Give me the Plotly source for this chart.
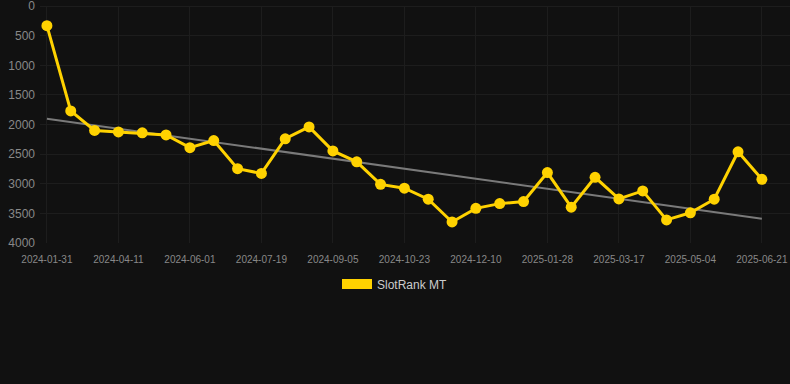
import plotly.graph_objects as go

dates = [
    "2024-01-31", "2024-02-24", "2024-03-18", "2024-04-11", "2024-04-28", "2024-05-15",
    "2024-06-01", "2024-06-17", "2024-07-03", "2024-07-19", "2024-08-04", "2024-08-20",
    "2024-09-05", "2024-09-21", "2024-10-07", "2024-10-23", "2024-11-08", "2024-11-24",
    "2024-12-10", "2024-12-26", "2025-01-11", "2025-01-28", "2025-02-13", "2025-03-01",
    "2025-03-17", "2025-04-02", "2025-04-18", "2025-05-04", "2025-05-20", "2025-06-05",
    "2025-06-21",
]
ranks = [
    330, 1770, 2100, 2125, 2140, 2175, 2390, 2270, 2745, 2825, 2240, 2040,
    2445, 2630, 3010, 3075, 3260, 3645, 3415, 3335, 3300, 2810, 3395, 2890,
    3255, 3120, 3610, 3490, 3260, 2460, 2925,
]
tick_labels = [
    "2024-01-31", "2024-04-11", "2024-06-01", "2024-07-19", "2024-09-05", "2024-10-23",
    "2024-12-10", "2025-01-28", "2025-03-17", "2025-05-04", "2025-06-21",
]
trend_x = ["2024-01-31", "2025-06-21"]
trend_y = [1900, 3590]
y_ticks = [0, 500, 1000, 1500, 2000, 2500, 3000, 3500, 4000]
series_name = "SlotRank MT"

GOLD = "#FFD200"
BG = "#111111"
GRID = "#1d1d1d"

fig = go.Figure()
fig.add_trace(go.Scatter(
    x=trend_x, y=trend_y, mode="lines",
    line=dict(color="#7a7a7a", width=2),
    showlegend=False, hoverinfo="skip",
))
fig.add_trace(go.Scatter(
    x=dates, y=ranks, mode="lines+markers",
    line=dict(color=GOLD, width=3),
    marker=dict(color=GOLD, size=11),
    showlegend=False, name=series_name,
))
fig.add_trace(go.Scatter(
    x=[None], y=[None], mode="lines",
    line=dict(color=GOLD, width=11),
    name=series_name, showlegend=True,
))

fig.update_layout(
    width=790, height=384,
    margin=dict(l=40, r=0, t=6, b=141),
    paper_bgcolor=BG, plot_bgcolor=BG,
    font=dict(family="Liberation Sans, Arial, sans-serif", color="#888888"),
    legend=dict(
        orientation="h", xref="container", x=0.5, xanchor="center",
        yref="container", y=(384 - 284) / 384, yanchor="middle",
        font=dict(size=12, color="#cccccc"),
        bgcolor="rgba(0,0,0,0)",
    ),
    xaxis=dict(
        type="category", categoryorder="array", categoryarray=dates,
        range=[-0.29, 31.18],
        tickvals=tick_labels, ticktext=tick_labels,
        showgrid=True, gridcolor=GRID, gridwidth=1,
        zeroline=False, showline=False, ticks="",
        tickfont=dict(size=10, color="#888888"),
        tickangle=0, ticklabelstandoff=9, ticklabeloverflow="allow",
    ),
    yaxis=dict(
        range=[4000, -2], autorange=False,
        tickvals=y_ticks,
        showgrid=True, gridcolor=GRID, gridwidth=1,
        zeroline=True, zerolinecolor=GRID, zerolinewidth=1,
        showline=False, ticks="",
        tickfont=dict(size=12, color="#888888"),
        ticklabelstandoff=4, ticklabeloverflow="allow",
    ),
)

fig.write_html(
    "out.html",
    config={"displayModeBar": False},
    post_script="document.body.style.margin='0';document.body.style.background='#111111';",
)
